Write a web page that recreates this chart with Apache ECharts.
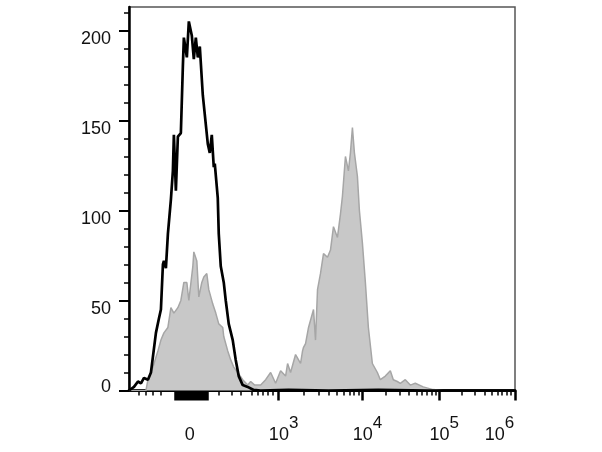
<!DOCTYPE html>
<html>
<head>
<meta charset="utf-8">
<script src="https://cdn.jsdelivr.net/npm/echarts@6/dist/echarts.min.js"></script>
<style>html,body{margin:0;padding:0;background:#fff}#c{width:602px;height:452px}</style>
</head>
<body>
<div id="c"></div>
<script>
// x values are positions on the biexponential display scale (0..387)
var blackX = [0,5,9,12,15,19,22,27,30,32,34,35,37,39,42,44,45,47,49,52,54,55,58,60,63,65,67,69,71,74,76,79,81,83,85,86,89,90,92,95,97,100,104,107,110,114,119,125,132,160,200,250,300,387];
var blackY = [0,2,5,4,7,6,10,32,40,45,70,72,68,87,106,122,142,111,141,143,180,196,185,205,197,184,196,185,191,164,164,137,132,142,124,126,107,87,69,60,50,37,28,17,8,3,2,0.3,0,0.4,0,0.4,0,0];
var grayX = [0,17,19,24,29,32,35,39,42,45,49,52,55,58,60,64,65,68,70,73,75,78,80,84,87,90,94,95,99,102,105,109,114,119,122,126,132,137,142,147,152,157,159,162,167,170,172,174,175,177,180,185,187,189,192,195,199,202,205,209,212,214,217,220,222,224,226,229,231,234,237,240,244,249,252,257,262,265,269,272,277,282,287,295,305,315,387];
var grayY = [0,0,6,13,22,28,32,35,46,43,46,50,60,60,50,69,77,72,52,60,63,65,56,48,43,37,35,30,22,17,13,10,6,3,5,3,3,6,10,4,11,8,15,10,20,17,15,22,24,26,35,45,28,56,65,76,74,78,91,85,98,108,130,122,132,146,132,119,100,82,60,35,15,10,6,8,11,6,5,4,6,3,4,2,0.5,0,0];
var yMajor = [0,50,100,150,200];
var yMinor = [10,20,30,40,60,70,80,90,110,120,130,140,160,170,180,190,210];
var xLabelPos = [61,150,234,311,387];
var xLabelText = ['0','3','4','5','6'];
var xMajor = [150,234,311,387];
var xZeroBlock = [];
for (var i = 46; i <= 78; i += 1) xZeroBlock.push(i);
var xMinor = [10,17,24,32,90,103,112,123,129,134,139,144,
  175,190,200,208,215,221,225,230,
  257,271,280,288,294,299,304,308,
  334,347,357,364,370,374,379,383];

function zip(a, b) { return a.map(function (v, i) { return [v, b[i]]; }); }

var chart = echarts.init(document.getElementById('c'));
var font = 'Liberation Sans, Arial, Helvetica, sans-serif';
var txt = { fontFamily: font, color: '#111' };
function st(o) { return Object.assign({}, txt, o); }
chart.setOption({
  animation: false,
  grid: { left: 129, right: 87, top: 7, bottom: 61.5, containLabel: false, outerBoundsMode: 'none', show: true, borderColor: '#555', borderWidth: 1.5, backgroundColor: 'transparent' },
  xAxis: [
    {
      type: 'value', min: 0, max: 387, position: 'bottom',
      axisLine: { show: true, lineStyle: { color: '#000', width: 3 } },
      axisTick: { show: true, length: 10, customValues: xMajor.concat(xZeroBlock), lineStyle: { color: '#000', width: 2.5 } },
      splitLine: { show: false },
      axisLabel: {
        show: true, margin: 35, customValues: xLabelPos,
        fontFamily: font, color: '#111',
        formatter: function (v) {
          var idx = xLabelPos.indexOf(v);
          if (idx === 0) return '{b|0}';
          if (idx === 4) return '{b|10}{s6|' + xLabelText[idx] + '}';
          return '{p|10}{s|' + xLabelText[idx] + '}';
        },
        rich: {
          b: st({ fontSize: 18, lineHeight: 20, verticalAlign: 'middle' }),
          p: st({ fontSize: 18, lineHeight: 20, verticalAlign: 'middle', padding: [0, 0, 0, 10] }),
          s: st({ fontSize: 17, lineHeight: 18, verticalAlign: 'middle', padding: [0, 0, 24, 0] }),
          s6: st({ fontSize: 17, lineHeight: 18, verticalAlign: 'middle', padding: [0, 31, 24, 0] })
        }
      }
    },
    {
      type: 'value', min: 0, max: 387, position: 'bottom',
      axisLine: { show: false },
      axisTick: { show: true, length: 5, customValues: xMinor, lineStyle: { color: '#000', width: 1.5 } },
      axisLabel: { show: false },
      splitLine: { show: false }
    }
  ],
  yAxis: [
    {
      type: 'value', min: 0, max: 213, position: 'left',
      axisLine: { show: true, lineStyle: { color: '#000', width: 2.5 } },
      axisTick: { show: true, length: 10, customValues: yMajor, lineStyle: { color: '#000', width: 2 } },
      splitLine: { show: false },
      axisLabel: {
        show: true, margin: 18, customValues: yMajor, fontFamily: font, color: '#111',
        formatter: function (v) { return v === 0 ? '{z|0}' : '{n|' + v + '}'; },
        rich: {
          n: st({ fontSize: 18, padding: [17, 0, 0, 0] }),
          z: st({ fontSize: 18, padding: [0, 0, 7, 0] })
        }
      }
    },
    {
      type: 'value', min: 0, max: 213, position: 'left',
      axisLine: { show: false },
      axisTick: { show: true, length: 5, customValues: yMinor, lineStyle: { color: '#000', width: 1.5 } },
      axisLabel: { show: false },
      splitLine: { show: false }
    }
  ],
  series: [
    {
      type: 'line', xAxisIndex: 0, yAxisIndex: 0, data: zip(grayX, grayY),
      symbol: 'none', lineStyle: { color: '#a6a6a6', width: 1.5 },
      areaStyle: { color: '#c8c8c8', opacity: 1 }, z: 2
    },
    {
      type: 'line', xAxisIndex: 0, yAxisIndex: 0, data: zip(blackX, blackY),
      symbol: 'none', lineStyle: { color: '#000', width: 2.7 }, z: 3
    }
  ]
});
</script>
</body>
</html>
